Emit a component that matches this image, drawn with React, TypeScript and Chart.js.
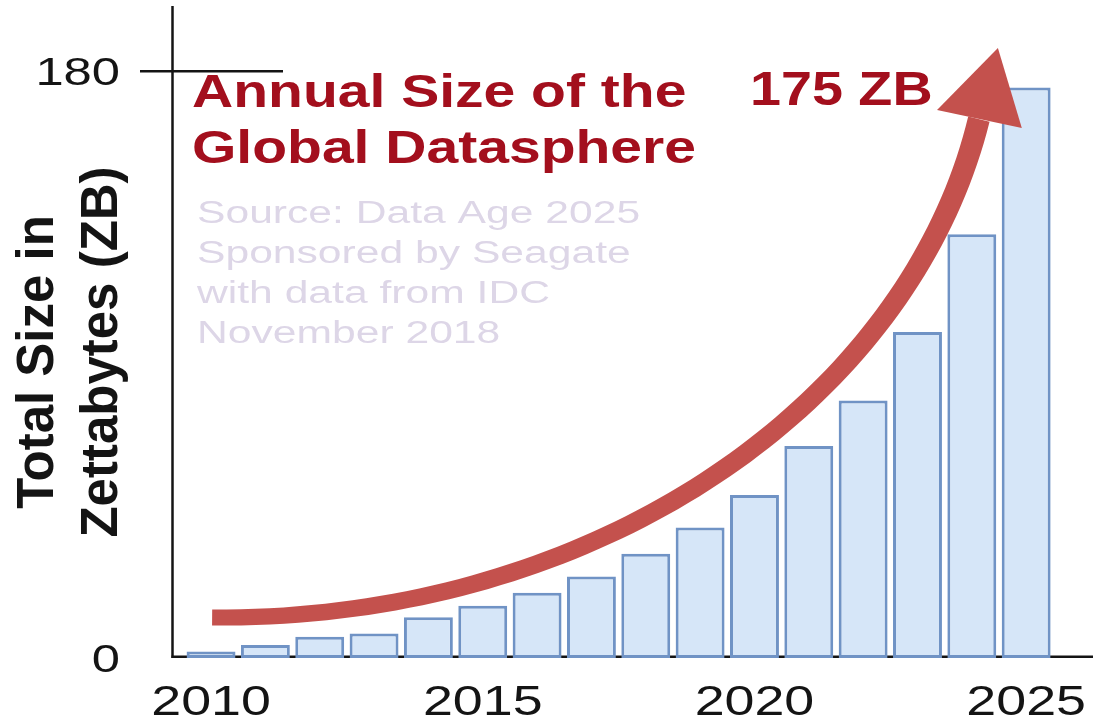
import React, { useEffect, useRef } from "react";
import { Chart, registerables } from "chart.js";

Chart.register(...registerables);

// Annual size of the global datasphere, zettabytes per year
const years = [2010, 2011, 2012, 2013, 2014, 2015, 2016, 2017, 2018, 2019, 2020, 2021, 2022, 2023, 2024, 2025];
const zettabytes = [2, 4, 6.5, 7.5, 12.5, 16, 20, 25, 32, 40, 50, 65, 79, 100, 130, 175];

// Axis ticks
const xTickYears = [2010, 2015, 2020, 2025];
const yTickValues = [0, 180];

// Text blocks
const titleLines = ["Annual Size of the", "Global Datasphere"];
const sourceLines = ["Source: Data Age 2025", "Sponsored by Seagate", "with data from IDC", "November 2018"];
const yAxisTitleLines = ["Total Size in", "Zettabytes (ZB)"];

// Growth arrow, in data coordinates (year, ZB): a cubic curve plus a triangular head
const arrowCurve = [
  [2010.02, 12.4],
  [2017.16, 11.5],
  [2022.86, 79.0],
  [2024.13, 165.3],
];
const arrowHead = [
  [2024.48, 187.1],
  [2023.36, 168.1],
  [2024.92, 162.6],
];

const FONT = '"Liberation Sans", Arial, Helvetica, sans-serif';
const DARK_RED = "#a30f1d";
const ARROW_RED = "#c4514d";
const SOURCE_GREY = "#ddd6e7";
const AXIS_BLACK = "#141414";

// Text with a horizontal stretch factor (the slide lettering is wide)
function wideText(
  ctx: CanvasRenderingContext2D,
  text: string,
  x: number,
  y: number,
  font: string,
  color: string,
  sx: number,
  align: "left" | "right" | "center" = "left"
) {
  ctx.save();
  ctx.font = font;
  ctx.fillStyle = color;
  ctx.textBaseline = "alphabetic";
  ctx.textAlign = "left";
  const w = ctx.measureText(text).width * sx;
  let x0 = x;
  if (align === "right") x0 = x - w;
  else if (align === "center") x0 = x - w / 2;
  ctx.translate(x0, y);
  ctx.scale(sx, 1);
  ctx.fillText(text, 0, 0);
  ctx.restore();
}

// Axis lines and tick mark, drawn beneath the bars
const axesPlugin = {
  id: "slideAxes",
  beforeDatasetsDraw(chart: any) {
    const { ctx, chartArea } = chart;
    const y = chart.scales.y;
    ctx.save();
    ctx.strokeStyle = AXIS_BLACK;
    ctx.lineWidth = 2.5;
    ctx.lineCap = "butt";
    // vertical axis
    ctx.beginPath();
    ctx.moveTo(chartArea.left - 0.5, chartArea.top);
    ctx.lineTo(chartArea.left - 0.5, chartArea.bottom);
    ctx.stroke();
    // baseline
    ctx.beginPath();
    ctx.moveTo(chartArea.left - 1.5, chartArea.bottom - 1.2);
    ctx.lineTo(chartArea.right, chartArea.bottom - 1.2);
    ctx.stroke();
    // top tick mark crossing the axis
    const topTick = yTickValues[yTickValues.length - 1];
    const ty = y.getPixelForValue(topTick);
    ctx.beginPath();
    ctx.moveTo(chartArea.left - 33, ty);
    ctx.lineTo(chartArea.left + 110, ty);
    ctx.stroke();
    ctx.restore();
  },
};

// Arrow, labels and titles, drawn over the bars
const overlayPlugin = {
  id: "slideOverlay",
  afterDatasetsDraw(chart: any) {
    const { ctx, chartArea } = chart;
    const xs = chart.scales.x;
    const ys = chart.scales.y;
    const px = (p: number[]) => [xs.getPixelForValue(p[0]), ys.getPixelForValue(p[1])];

    // ---- growth arrow: tapered shaft along a cubic curve
    const [p0, p1, p2, p3] = arrowCurve.map(px);
    const n = 80;
    const left: number[][] = [];
    const right: number[][] = [];
    const w0 = 16;
    const w1 = 22;
    for (let i = 0; i <= n; i++) {
      const t = i / n;
      const mt = 1 - t;
      const bx = mt * mt * mt * p0[0] + 3 * mt * mt * t * p1[0] + 3 * mt * t * t * p2[0] + t * t * t * p3[0];
      const by = mt * mt * mt * p0[1] + 3 * mt * mt * t * p1[1] + 3 * mt * t * t * p2[1] + t * t * t * p3[1];
      const dx = 3 * mt * mt * (p1[0] - p0[0]) + 6 * mt * t * (p2[0] - p1[0]) + 3 * t * t * (p3[0] - p2[0]);
      const dy = 3 * mt * mt * (p1[1] - p0[1]) + 6 * mt * t * (p2[1] - p1[1]) + 3 * t * t * (p3[1] - p2[1]);
      const len = Math.hypot(dx, dy) || 1;
      const nx = -dy / len;
      const ny = dx / len;
      const hw = (w0 + (w1 - w0) * t) / 2;
      left.push([bx + nx * hw, by + ny * hw]);
      right.push([bx - nx * hw, by - ny * hw]);
    }
    ctx.save();
    ctx.fillStyle = ARROW_RED;
    ctx.beginPath();
    ctx.moveTo(left[0][0], left[0][1]);
    for (const q of left) ctx.lineTo(q[0], q[1]);
    for (let i = right.length - 1; i >= 0; i--) ctx.lineTo(right[i][0], right[i][1]);
    ctx.closePath();
    ctx.fill();
    const head = arrowHead.map(px);
    ctx.beginPath();
    ctx.moveTo(head[0][0], head[0][1]);
    ctx.lineTo(head[1][0], head[1][1]);
    ctx.lineTo(head[2][0], head[2][1]);
    ctx.closePath();
    ctx.fill();
    ctx.restore();

    // ---- tick labels
    for (const v of yTickValues) {
      const ty = ys.getPixelForValue(v);
      wideText(ctx, String(v), chartArea.left - 53, ty + 14, `39px ${FONT}`, AXIS_BLACK, 1.3, "right");
    }
    for (const yr of xTickYears) {
      const tx = xs.getPixelForValue(yr);
      wideText(ctx, String(yr), tx, chartArea.bottom + 57, `42px ${FONT}`, AXIS_BLACK, 1.28, "center");
    }

    // ---- rotated axis title
    ctx.save();
    ctx.font = `bold 51px ${FONT}`;
    ctx.fillStyle = AXIS_BLACK;
    ctx.textAlign = "center";
    ctx.textBaseline = "alphabetic";
    const titleAnchors = [
      [chartArea.left - 120, 362],
      [chartArea.left - 56, 352],
    ];
    yAxisTitleLines.forEach((line, i) => {
      ctx.save();
      ctx.translate(titleAnchors[i][0], titleAnchors[i][1]);
      ctx.rotate(-Math.PI / 2);
      ctx.fillText(line, 0, 0);
      ctx.restore();
    });
    ctx.restore();

    // ---- chart title
    titleLines.forEach((line, i) => {
      wideText(ctx, line, chartArea.left + 19, chartArea.top + 101 + i * 56, `bold 46px ${FONT}`, DARK_RED, 1.24);
    });

    // ---- source note
    sourceLines.forEach((line, i) => {
      wideText(ctx, line, chartArea.left + 24, chartArea.top + 217 + i * 40, `31px ${FONT}`, SOURCE_GREY, 1.375);
    });

    // ---- value label for the last year
    const lastValue = zettabytes[zettabytes.length - 1];
    wideText(ctx, `${lastValue} ZB`, chartArea.left + 577, chartArea.top + 99, `bold 48px ${FONT}`, DARK_RED, 1.16);
  },
};

export default function App() {
  const canvasRef = useRef<HTMLCanvasElement | null>(null);

  useEffect(() => {
    const canvas = canvasRef.current;
    if (!canvas) return;
    const chart = new Chart(canvas, {
      type: "bar",
      data: {
        datasets: [
          {
            label: "Total Size in Zettabytes (ZB)",
            data: years.map((yr, i) => ({ x: yr, y: zettabytes[i] })),
            backgroundColor: "#d6e6f8",
            borderColor: "#7093c5",
            borderWidth: 3,
            borderSkipped: false,
            barPercentage: 0.9,
            categoryPercentage: 1,
          } as any,
        ],
      },
      options: {
        responsive: false,
        animation: false,
        devicePixelRatio: 1,
        layout: { padding: { left: 173, top: 6, right: 4, bottom: 70 } },
        plugins: {
          legend: { display: false },
          tooltip: { enabled: false },
        },
        scales: {
          x: {
            type: "linear",
            display: false,
            offset: false,
            grid: { offset: false },
            min: 2009.3,
            max: 2026.23,
            afterBuildTicks: (scale: any) => {
              scale.ticks = xTickYears.map((v) => ({ value: v }));
            },
          },
          y: {
            type: "linear",
            display: false,
            min: 0,
            max: 200,
            afterBuildTicks: (scale: any) => {
              scale.ticks = yTickValues.map((v) => ({ value: v }));
            },
          },
        },
      },
      plugins: [axesPlugin, overlayPlugin],
    });
    return () => chart.destroy();
  }, []);

  return (
    <div style={{ position: "absolute", left: 0, top: 0, width: 1097, height: 728, background: "#ffffff" }}>
      <canvas ref={canvasRef} width={1097} height={728} style={{ display: "block" }} />
    </div>
  );
}
